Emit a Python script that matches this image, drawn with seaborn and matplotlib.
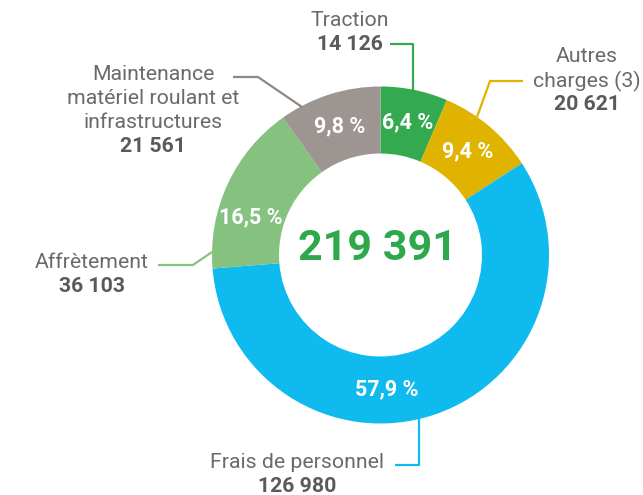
import numpy as np
import matplotlib
matplotlib.use("Agg")
import matplotlib.pyplot as plt
import seaborn as sns

# ---- data ----
categories = ["Traction", "Autres charges (3)", "Frais de personnel", "Affrètement",
              "Maintenance matériel roulant et infrastructures"]
values = [14126, 20621, 126980, 36103, 21561]
value_labels = ["14 126", "20 621", "126 980", "36 103", "21 561"]
total_label = "219 391"
colors = ["#33aa4f", "#dfb300", "#0fbaee", "#85c17f", "#9c9591"]

sns.set_theme(style="white")
plt.rcParams["font.family"] = ["Roboto", "DejaVu Sans"]

W, H = 643, 495
fig = plt.figure(figsize=(W / 100, H / 100), dpi=100)
ax = fig.add_axes([0, 0, 1, 1])
ax.set_xlim(0, W)
ax.set_ylim(0, H)
ax.set_aspect("equal")
ax.axis("off")

def Y(y):  # image y -> data y
    return H - y

cx, cy, R = 380.5, 255, 168.5
width = 67

total = sum(values)

def fmt_pct(v):
    return f"{v / total * 100:.1f}".replace(".", ",") + " %"

wedges, _ = ax.pie(values, colors=colors, startangle=90, counterclock=False,
                   center=(cx, Y(cy)), radius=R, frame=True,
                   wedgeprops=dict(width=width, edgecolor="none"))
ax.set_xlim(0, W)
ax.set_ylim(0, H)
ax.axis("off")

# percent labels (clockwise-from-top angle; two are shifted as in the reference)
angle_shift = {2: 16, 3: -9}
r_lab = R - width / 2
cum = 0
for i, v in enumerate(values):
    mid = (cum + v / 2) / total * 360
    cum += v
    a = np.deg2rad(mid + angle_shift.get(i, 0))
    x = cx + r_lab * np.sin(a)
    y = cy - r_lab * np.cos(a)
    ax.text(x, Y(y), fmt_pct(v), ha="center", va="center", color="white",
            fontsize=15.5, fontweight="bold")

# center total
ax.text(377, Y(249), total_label, ha="center", va="center", color="#2ea84a",
        fontsize=31, fontweight="bold")

gray = "#6a6a6a"
dark = "#5a5a5a"
fs = 15.3

def label(lines, x, ys, value):
    for t, y in zip(lines, ys[:-1]):
        ax.text(x, Y(y), t, ha="center", va="center", color=gray, fontsize=fs)
    ax.text(x, Y(ys[-1]), value, ha="center", va="center", color=dark,
            fontsize=fs, fontweight="bold")

label(["Traction"], 350, [20, 44], value_labels[0])
label(["Autres", "charges (3)"], 587, [57, 81, 105], value_labels[1])
label(["Frais de personnel"], 297, [462, 487], value_labels[2])
label(["Affrètement"], 92, [262, 286], value_labels[3])
label(["Maintenance", "matériel roulant et", "infrastructures"], 153,
      [74, 98, 123, 147], value_labels[4])

def leader(pts, c):
    xs = [p[0] for p in pts]
    ys = [Y(p[1]) for p in pts]
    ax.plot(xs, ys, color=c, lw=1.6, solid_capstyle="butt")

leader([(390, 44), (413, 44), (413, 90)], colors[0])
leader([(523, 81), (490, 81), (477, 117)], colors[1])
leader([(395, 465), (419, 465), (419, 405)], colors[2])
leader([(158, 265), (193, 265), (212, 252)], colors[3])
leader([(233, 77), (258, 77), (302, 107)], "#8f8883")

fig.savefig("out.png", dpi=100)
